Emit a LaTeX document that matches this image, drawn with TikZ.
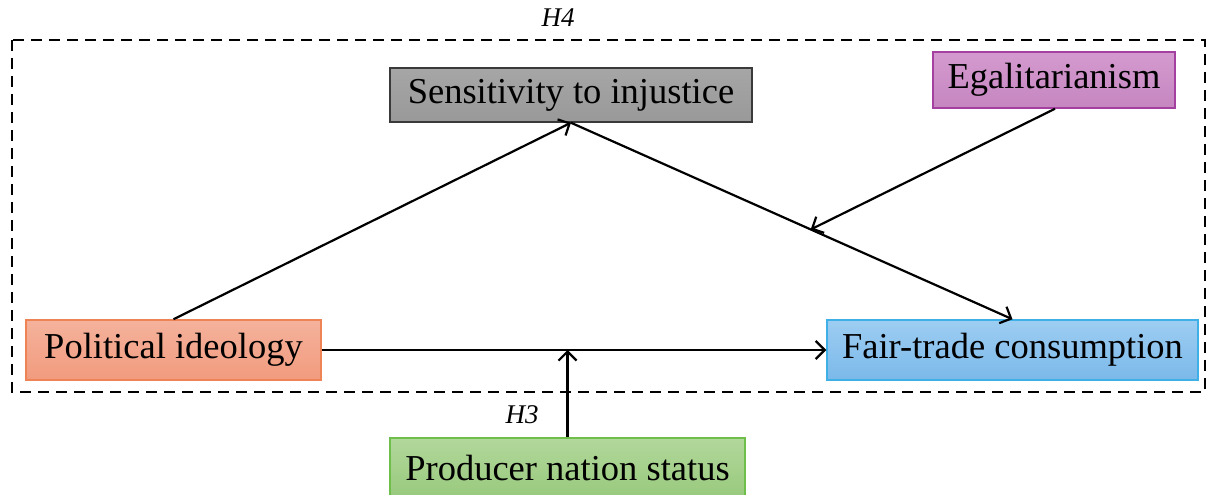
\documentclass[tikz,border=0pt]{standalone}
\usepackage{fontspec}
\setmainfont{Liberation Serif}
\usetikzlibrary{arrows.meta,calc}
\definecolor{grayfill}{HTML}{999999}
\definecolor{graytop}{HTML}{A6A6A6}
\definecolor{grayline}{HTML}{3A3A3A}
\definecolor{pinktop}{HTML}{D49ACF}
\definecolor{pinkbot}{HTML}{C686C0}
\definecolor{pinkline}{HTML}{A440A0}
\definecolor{salmtop}{HTML}{F5B29C}
\definecolor{salmbot}{HTML}{F19B7E}
\definecolor{salmline}{HTML}{EE8455}
\definecolor{bluetop}{HTML}{9DCDF2}
\definecolor{bluebot}{HTML}{7BB9EA}
\definecolor{blueline}{HTML}{3EB0E6}
\definecolor{greentop}{HTML}{B2D89C}
\definecolor{greenbot}{HTML}{98C97C}
\definecolor{greenline}{HTML}{6DBE4B}
\tikzset{
  box/.style={draw, line width=1.5pt, minimum height=56pt, inner sep=0pt,
    font=\fontsize{36.5}{42}\selectfont, text=black},
  arr/.style={line width=2.2pt, -{Straight Barb[length=9pt,width=18pt,line width=2.2pt]}},
  hyp/.style={font=\fontsize{27}{32}\selectfont\itshape}
}
\begin{document}
\begin{tikzpicture}[x=1pt,y=-1pt]
\useasboundingbox (0,0) rectangle (1208,495);
\draw[line width=1.8pt, dash pattern=on 11pt off 7pt] (12,40) rectangle (1205,392);
\node[hyp] (h4) at (558,18) {H4};
\node[box, minimum width=362pt, minimum height=54pt, top color=graytop, bottom color=grayfill, draw=grayline] (sens) at (571,95) {Sensitivity to injustice};
\node[box, minimum width=242pt, minimum height=56pt, top color=pinktop, bottom color=pinkbot, draw=pinkline] (egal) at (1054,80) {Egalitarianism};
\node[box, minimum width=295pt, minimum height=60pt, top color=salmtop, bottom color=salmbot, draw=salmline] (pol) at (173.5,350) {Political ideology};
\node[box, minimum width=371pt, minimum height=60pt, top color=bluetop, bottom color=bluebot, draw=blueline] (fair) at (1012.5,350) {Fair-trade consumption};
\node[box, minimum width=355pt, minimum height=60pt, top color=greentop, bottom color=greenbot, draw=greenline] (prod) at (567.5,468) {Producer nation status};
\node[hyp] (h3) at (522,415) {H3};
\coordinate (mid) at ($(sens.south)!0.543!(fair.north)$);
\coordinate (hmid) at (prod.north |- pol.east);
\draw[arr] (pol.north) -- (sens.south);
\draw[arr] (sens.south) -- (fair.north);
\draw[arr] (pol.east) -- (fair.west);
\draw[arr] ($(egal.south)+(1,0)$) -- (mid);
\draw[arr] (prod.north) -- (hmid);
\end{tikzpicture}
\end{document}
